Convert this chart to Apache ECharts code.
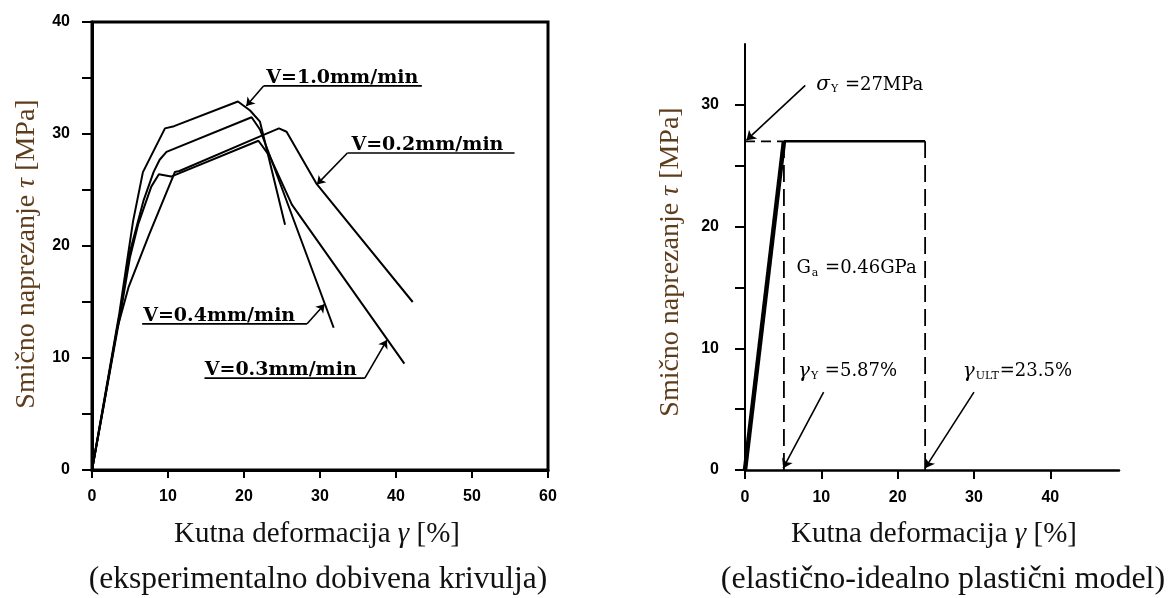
<!DOCTYPE html>
<html><head><meta charset="utf-8">
<script src="https://cdn.jsdelivr.net/npm/echarts@6/dist/echarts.min.js"></script>
<style>html,body{margin:0;padding:0;background:#fff}#c{width:1172px;height:598px}</style>
</head><body><div id="c"></div>
<script>
// ---------- Left chart: experimental curves (shear strain %, shear stress MPa) ----------
const gammaV10 = [0, 3.6, 4.8, 5.4, 6.7, 9.6, 10.8, 19.2, 20.8, 22.1, 22.5, 25.4];
const tauV10   = [0, 14.0, 19.5, 22.2, 26.6, 30.5, 30.7, 32.9, 32.1, 31.1, 30.0, 21.9];
const gammaV04 = [0, 3.8, 5.0, 6.8, 8.1, 8.9, 9.8, 21.0, 22.1, 23.6, 31.8];
const tauV04   = [0, 14.5, 19.5, 24.1, 26.6, 27.7, 28.4, 31.5, 30.4, 27.7, 12.7];
const gammaV03 = [0, 3.8, 5.0, 6.1, 7.8, 8.8, 10.4, 21.9, 23.4, 26.3, 41.1];
const tauV03   = [0, 14.2, 19.0, 22.0, 25.3, 26.4, 26.2, 29.4, 28.0, 23.7, 9.5];
const gammaV02 = [0, 1.5, 3.3, 4.8, 7.5, 10.9, 11.5, 21.8, 24.6, 25.6, 29.5, 42.2];
const tauV02   = [0, 5.6, 12.6, 16.3, 21.0, 26.6, 26.7, 29.7, 30.5, 30.2, 25.6, 15.0];

const leftXTicks = [0, 10, 20, 30, 40, 50, 60];
const leftYTicks = [0, 10, 20, 30, 40];

// labels of the experimental curves
const leftLabelText      = ['V=1.0mm/min', 'V=0.2mm/min', 'V=0.4mm/min', 'V=0.3mm/min'];
const leftLabelGamma     = [23.0, 34.2, 6.8, 14.9];
const leftUnderlineTau   = [34.3, 28.3, 13.05, 8.2];
const leftUnderlineFrom  = [22.6, 33.6, 6.6, 14.8];
const leftUnderlineTo    = [43.4, 55.6, 28.3, 35.9];
const leftLeaderFromX    = [22.6, 33.6, 28.3, 35.9];
const leftArrowTipGamma  = [20.3, 29.6, 30.6, 38.8];
const leftArrowTipTau    = [32.5, 25.5, 14.8, 11.6];

// ---------- Right chart: elastic - ideally plastic model ----------
const modelGamma = [0, 5.1, 23.6];
const modelTau   = [0, 27, 27];
const yieldTau = 27, yieldGamma = 5.1, ultGamma = 23.6;
const rightXTicks = [0, 10, 20, 30, 40];
const rightYTicks = [0, 5, 10, 15, 20, 25, 30];
const rightYLabels = [0, 10, 20, 30];

const noteText  = ['{g|σ}{s|Y}{t| =27MPa}', '{t|G}{s|a}{t| =0.46GPa}', '{g|γ}{s|Y}{t| =5.87%}', '{g|γ}{s|ULT}{t|=23.5%}'];
const noteGamma = [9.4, 6.8, 7.0, 28.6];
const noteTau   = [31.6, 16.5, 8.05, 8.05];
const arrowFromGamma = [7.9, 10.3, 30.0];
const arrowFromTau   = [31.6, 6.4, 6.4];
const arrowToGamma   = [0.2, 5.0, 23.6];
const arrowToTau     = [27.1, 0.15, 0.15];

const zip = (a, b) => a.map((v, i) => [v, b[i]]);
const black = '#000';
const tickFont = {fontFamily: 'Liberation Sans', fontWeight: 'bold', fontSize: 16, color: black};
const titleColor = '#5e3d1c';

function curve(name, xs, ys) {
  return {type: 'line', name, xAxisIndex: 0, yAxisIndex: 0, data: zip(xs, ys), showSymbol: false,
    symbol: 'none', lineStyle: {color: black, width: 2}, silent: true, z: 3};
}

const chart = echarts.init(document.getElementById('c'), null, {renderer: 'canvas'});
const option = {
  animation: false,
  backgroundColor: '#fff',
  grid: [
    {left: 92, top: 22, width: 456, height: 448, show: true, borderColor: black, borderWidth: 3, backgroundColor: 'transparent'},
    {left: 745, top: 44, width: 374, height: 426}
  ],
  xAxis: [
    {type: 'value', gridIndex: 0, min: 0, max: 60, interval: 10,
      axisLine: {show: true, lineStyle: {color: black, width: 3}},
      axisTick: {show: true, inside: false, length: 8, lineStyle: {color: black, width: 2}},
      axisLabel: Object.assign({margin: 19, customValues: leftXTicks}, tickFont),
      splitLine: {show: false}},
    {type: 'value', gridIndex: 1, min: 0, max: 49,
      axisLine: {show: true, onZero: false, lineStyle: {color: black, width: 2.5}},
      axisTick: {show: true, inside: false, length: 9, customValues: rightXTicks, lineStyle: {color: black, width: 2}},
      axisLabel: Object.assign({margin: 20, customValues: rightXTicks}, tickFont),
      splitLine: {show: false}}
  ],
  yAxis: [
    {type: 'value', gridIndex: 0, min: 0, max: 40, interval: 5,
      axisLine: {show: true, lineStyle: {color: black, width: 3}},
      axisTick: {show: true, inside: false, length: 10, lineStyle: {color: black, width: 2}},
      axisLabel: Object.assign({margin: 22, customValues: leftYTicks}, tickFont),
      splitLine: {show: false}},
    {type: 'value', gridIndex: 1, min: 0, max: 35,
      axisLine: {show: true, onZero: false, lineStyle: {color: black, width: 2}},
      axisTick: {show: true, inside: false, length: 10, customValues: rightYTicks, lineStyle: {color: black, width: 2}},
      axisLabel: Object.assign({margin: 26, customValues: rightYLabels}, tickFont),
      splitLine: {show: false}}
  ],
  graphic: [
    {type: 'text', x: 27, y: 254, rotation: Math.PI / 2, silent: true,
      style: {text: '{a|Smično naprezanje }{b|τ}{a| [MPa]}', align: 'center', verticalAlign: 'middle',
        rich: {a: {fontFamily: 'Liberation Serif', fontSize: 28, fill: titleColor},
               b: {fontFamily: 'Liberation Serif', fontStyle: 'italic', fontSize: 28, fill: titleColor}}}},
    {type: 'text', x: 671, y: 262, rotation: Math.PI / 2, silent: true,
      style: {text: '{a|Smično naprezanje }{b|τ}{a| [MPa]}', align: 'center', verticalAlign: 'middle',
        rich: {a: {fontFamily: 'Liberation Serif', fontSize: 28, fill: titleColor},
               b: {fontFamily: 'Liberation Serif', fontStyle: 'italic', fontSize: 28, fill: titleColor}}}},
    {type: 'text', x: 317, y: 534, silent: true,
      style: {text: '{a|Kutna deformacija }{b|γ}{a| [%]}', align: 'center', verticalAlign: 'middle',
        rich: {a: {fontFamily: 'Liberation Serif', fontSize: 29, fill: '#111'},
               b: {fontFamily: 'Liberation Serif', fontStyle: 'italic', fontSize: 29, fill: '#111'}}}},
    {type: 'text', x: 934, y: 534, silent: true,
      style: {text: '{a|Kutna deformacija }{b|γ}{a| [%]}', align: 'center', verticalAlign: 'middle',
        rich: {a: {fontFamily: 'Liberation Serif', fontSize: 29, fill: '#111'},
               b: {fontFamily: 'Liberation Serif', fontStyle: 'italic', fontSize: 29, fill: '#111'}}}},
    {type: 'text', x: 318, y: 580, silent: true,
      style: {text: '(eksperimentalno dobivena krivulja)', align: 'center', verticalAlign: 'middle',
        fontFamily: 'Liberation Serif', fontSize: 31.5, fill: '#111'}},
    {type: 'text', x: 943, y: 580, silent: true,
      style: {text: '(elastično-idealno plastični model)', align: 'center', verticalAlign: 'middle',
        fontFamily: 'Liberation Serif', fontSize: 32, fill: '#111'}}
  ],
  series: [
    curve('V=1.0', gammaV10, tauV10),
    curve('V=0.4', gammaV04, tauV04),
    curve('V=0.3', gammaV03, tauV03),
    curve('V=0.2', gammaV02, tauV02),
    // underlines + leaders with arrowheads
    ...leftLabelText.map((t, i) => ({
      type: 'line', xAxisIndex: 0, yAxisIndex: 0, silent: true, showSymbol: false, symbol: 'none',
      data: [[leftUnderlineFrom[i], leftUnderlineTau[i]], [leftUnderlineTo[i], leftUnderlineTau[i]]],
      lineStyle: {color: black, width: 1.6},
      markLine: {silent: true, symbol: ['none', 'arrow'], symbolSize: 8, label: {show: false},
        lineStyle: {color: black, width: 1.6, type: 'solid'},
        data: [[{coord: [leftLeaderFromX[i], leftUnderlineTau[i]]}, {coord: [leftArrowTipGamma[i], leftArrowTipTau[i]]}]]}
    })),
    {type: 'scatter', xAxisIndex: 0, yAxisIndex: 0, silent: true, symbolSize: 1,
      itemStyle: {color: 'rgba(0,0,0,0)', opacity: 1},
      data: leftLabelText.map((t, i) => ({value: [leftLabelGamma[i], leftUnderlineTau[i]], name: t})),
      label: {show: true, formatter: p => p.name, position: [0, 2], align: 'left', verticalAlign: 'bottom',
        fontFamily: 'DejaVu Serif', fontWeight: 'bold', fontSize: 19, color: black, opacity: 1,
        textBorderWidth: 0}},
    // right chart model
    {type: 'line', xAxisIndex: 1, yAxisIndex: 1, silent: true, showSymbol: false, symbol: 'none',
      data: zip(modelGamma.slice(0, 2), modelTau.slice(0, 2)), lineStyle: {color: black, width: 4.5}, z: 4},
    {type: 'line', xAxisIndex: 1, yAxisIndex: 1, silent: true, showSymbol: false, symbol: 'none',
      data: zip(modelGamma.slice(1), modelTau.slice(1)), lineStyle: {color: black, width: 2.5}, z: 4},
    {type: 'line', xAxisIndex: 1, yAxisIndex: 1, silent: true, showSymbol: false, symbol: 'none',
      data: [[0, yieldTau], [yieldGamma, yieldTau]], lineStyle: {color: black, width: 1.8, type: [10, 6]}},
    {type: 'line', xAxisIndex: 1, yAxisIndex: 1, silent: true, showSymbol: false, symbol: 'none',
      data: [[yieldGamma, 0], [yieldGamma, yieldTau]], lineStyle: {color: black, width: 1.8, type: [17, 7]}},
    {type: 'line', xAxisIndex: 1, yAxisIndex: 1, silent: true, showSymbol: false, symbol: 'none',
      data: [[ultGamma, 0], [ultGamma, yieldTau]], lineStyle: {color: black, width: 1.8, type: [17, 7]},
      markLine: {silent: true, symbol: ['none', 'arrow'], symbolSize: 9, label: {show: false},
        lineStyle: {color: black, width: 1.6, type: 'solid'},
        data: arrowFromGamma.map((g, i) => [{coord: [g, arrowFromTau[i]]}, {coord: [arrowToGamma[i], arrowToTau[i]]}])}},
    {type: 'scatter', xAxisIndex: 1, yAxisIndex: 1, silent: true, symbolSize: 1,
      itemStyle: {color: 'rgba(0,0,0,0)', opacity: 1},
      data: noteText.map((t, i) => ({value: [noteGamma[i], noteTau[i]], name: t})),
      label: {show: true, formatter: p => p.name, position: [0, 0], align: 'left', verticalAlign: 'middle',
        opacity: 1, textBorderWidth: 0,
        rich: {
          g: {fontFamily: 'DejaVu Serif', fontStyle: 'italic', fontSize: 20, color: black},
          s: {fontFamily: 'DejaVu Serif', fontSize: 11, color: black, padding: [9, 1, 0, 1]},
          t: {fontFamily: 'DejaVu Serif', fontSize: 18, color: black}
        }}}
  ]
};
chart.setOption(option);
</script>
</body></html>
